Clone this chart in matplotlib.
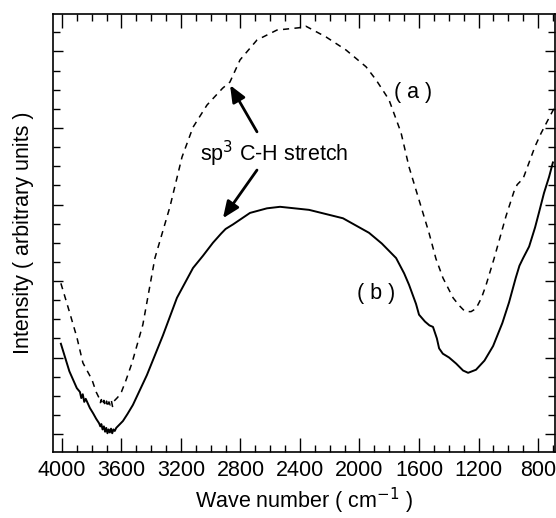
import matplotlib
matplotlib.use("Agg")
import matplotlib.pyplot as plt
from matplotlib.ticker import MultipleLocator, NullFormatter

plt.rcParams['font.family'] = ['Liberation Sans', 'DejaVu Sans']

# Curve (a): dashed
wn_a = [4007, 3950, 3899, 3859, 3798, 3770, 3750, 3742, 3735, 3728, 3718, 3710, 3700,
        3692, 3684, 3676, 3668, 3660, 3650, 3640, 3625, 3600, 3570, 3529, 3456, 3375,
        3274, 3193, 3119, 3025, 2920, 2871, 2803, 2689, 2555, 2407, 2360, 2225, 2091,
        1956, 1889, 1802, 1721, 1667, 1600, 1533, 1486, 1439, 1371, 1330, 1290, 1250,
        1217, 1180, 1149, 1096, 1015, 960, 940, 900, 860, 820, 780, 740, 686]
int_a = [1.97, 1.60, 1.26, 0.93, 0.71, 0.55, 0.47, 0.41, 0.45, 0.38, 0.44, 0.36, 0.43,
         0.35, 0.42, 0.38, 0.44, 0.36, 0.43, 0.45, 0.48, 0.55, 0.70, 0.93, 1.43, 2.30,
         2.97, 3.62, 4.01, 4.30, 4.52, 4.60, 4.89, 5.15, 5.28, 5.31, 5.33, 5.19, 5.02,
         4.80, 4.63, 4.37, 3.94, 3.49, 3.06, 2.63, 2.29, 2.04, 1.78, 1.68, 1.60, 1.60,
         1.64, 1.78, 1.95, 2.29, 2.85, 3.18, 3.26, 3.34, 3.55, 3.76, 3.93, 4.08, 4.28]

# Curve (b): solid
wn_b = [4007, 3950, 3900, 3879, 3870, 3860, 3850, 3840, 3812, 3790, 3770, 3750, 3742,
        3735, 3727, 3718, 3710, 3702, 3694, 3686, 3678, 3670, 3662, 3654, 3645, 3635,
        3620, 3590, 3560, 3523, 3429, 3321, 3227, 3119, 3052, 2985, 2930, 2900, 2850,
        2736, 2622, 2534, 2339, 2111, 1936, 1850, 1754, 1700, 1667, 1620, 1600, 1560,
        1530, 1506, 1480, 1465, 1440, 1398, 1350, 1304, 1270, 1217, 1160, 1102, 1040,
        995, 950, 925, 900, 860, 820, 793, 760, 726, 700]
int_b = [1.18, 0.82, 0.60, 0.55, 0.47, 0.52, 0.42, 0.46, 0.34, 0.27, 0.20, 0.14, 0.10,
         0.13, 0.06, 0.10, 0.03, 0.08, 0.01, 0.06, 0.02, 0.07, 0.01, 0.06, 0.04, 0.08,
         0.11, 0.17, 0.26, 0.38, 0.77, 1.29, 1.78, 2.17, 2.33, 2.50, 2.62, 2.68, 2.74,
         2.89, 2.95, 2.97, 2.93, 2.82, 2.63, 2.49, 2.30, 2.10, 1.95, 1.70, 1.56, 1.47,
         1.42, 1.40, 1.25, 1.12, 1.05, 1.00, 0.92, 0.83, 0.80, 0.84, 0.96, 1.15, 1.45,
         1.72, 2.04, 2.20, 2.30, 2.45, 2.70, 2.90, 3.15, 3.36, 3.55]

xticks = [4000, 3600, 3200, 2800, 2400, 2000, 1600, 1200, 800]
xtick_labels = ['4000', '3600', '3200', '2800', '2400', '2000', '1600', '1200', '800']

FS = 15.5

fig = plt.figure(figsize=(5.56, 5.18), dpi=100)
ax = fig.add_axes([53/556, 66/518, 502/556, 438/518])

ax.plot(wn_a, int_a, color='black', lw=1.1, linestyle=(0, (4, 3.5)))
ax.plot(wn_b, int_b, color='black', lw=1.4)

ax.set_xlim(4060, 686)
ax.set_ylim(-0.235, 5.49)

ax.set_xticks(xticks)
ax.set_xticklabels(xtick_labels)
ax.xaxis.set_minor_locator(MultipleLocator(100))
ax.yaxis.set_major_locator(MultipleLocator(1))
ax.yaxis.set_minor_locator(MultipleLocator(0.25))
ax.yaxis.set_major_formatter(NullFormatter())

ax.tick_params(axis='both', which='both', direction='in', top=True, right=True,
               width=1.0, colors='black')
ax.tick_params(axis='x', which='major', length=10, pad=6, labelsize=FS)
ax.tick_params(axis='x', which='minor', length=5)
ax.tick_params(axis='y', which='major', length=7)
ax.tick_params(axis='y', which='minor', length=5)
for s in ax.spines.values():
    s.set_linewidth(1.2)

ax.set_xlabel('Wave number ( cm$^{-1}$ )', fontsize=FS, labelpad=3)
ax.set_ylabel('Intensity ( arbitrary units )', fontsize=FS, labelpad=10)

ax.text(2575, 3.66, 'sp$^{3}$ C-H stretch', fontsize=FS, ha='center', va='center')
ax.text(1640, 4.46, '( a )', fontsize=FS, ha='center', va='center')
ax.text(1889, 1.84, '( b )', fontsize=FS, ha='center', va='center')

arrow_kw = dict(arrowstyle='-|>,head_length=1.0,head_width=0.42', color='black', lw=2.0,
                shrinkA=0, shrinkB=0)
ax.annotate('', xy=(2870, 4.56), xytext=(2689, 3.95), arrowprops=arrow_kw)
ax.annotate('', xy=(2918, 2.82), xytext=(2689, 3.45), arrowprops=arrow_kw)

fig.savefig('out.png', dpi=100)
